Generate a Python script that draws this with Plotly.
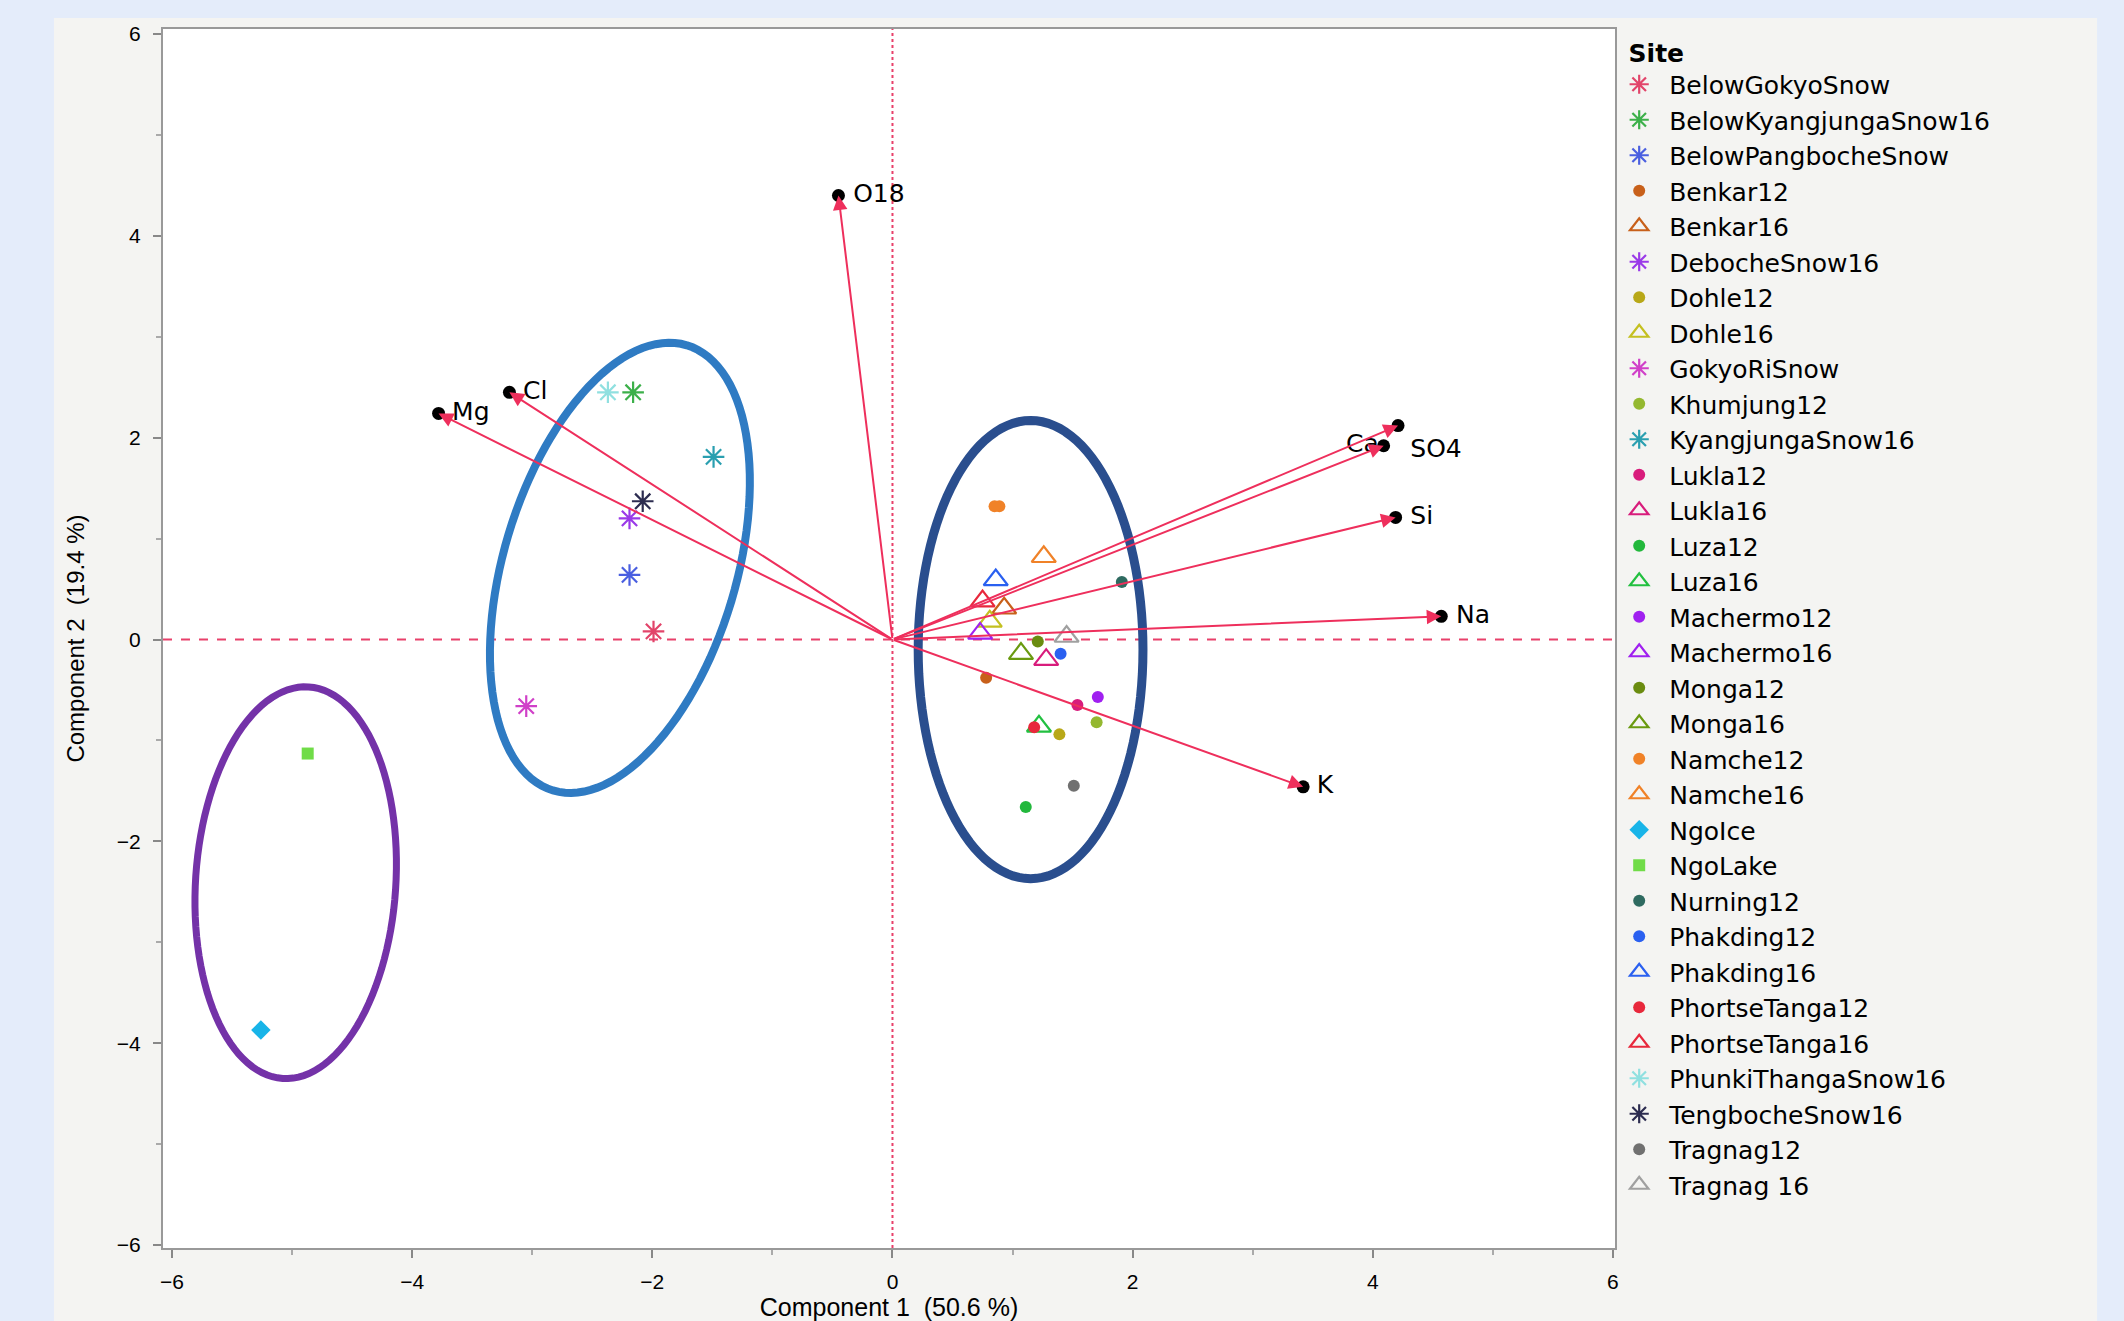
import math
import plotly.graph_objects as go

# ---- Site scores (Component 1, Component 2) ----
point_site = [
    "BelowGokyoSnow", "BelowKyangjungaSnow16", "BelowPangbocheSnow",
    "Benkar12", "Benkar16", "DebocheSnow16", "Dohle12", "Dohle16",
    "GokyoRiSnow", "Khumjung12", "KyangjungaSnow16", "Lukla12", "Lukla16",
    "Luza12", "Luza16", "Machermo12", "Machermo16", "Monga12", "Monga16",
    "Namche12", "Namche12", "Namche16", "NgoIce", "NgoLake", "Nurning12",
    "Phakding12", "Phakding16", "PhortseTanga12", "PhortseTanga16",
    "PhunkiThangaSnow16", "TengbocheSnow16", "Tragnag12", "Tragnag 16",
]
pc1 = [
    -1.99, -2.16, -2.19,
    0.78, 0.93, -2.19, 1.39, 0.81,
    -3.05, 1.70, -1.49, 1.54, 1.28,
    1.11, 1.22, 1.71, 0.73, 1.21, 1.07,
    0.89, 0.85, 1.26, -5.26, -4.87, 1.91,
    1.40, 0.86, 1.18, 0.75,
    -2.37, -2.08, 1.51, 1.45,
]
pc2 = [
    0.08, 2.45, 0.64,
    -0.38, 0.31, 1.20, -0.94, 0.18,
    -0.66, -0.82, 1.81, -0.65, -0.20,
    -1.66, -0.86, -0.57, 0.06, -0.02, -0.14,
    1.32, 1.32, 0.82, -3.87, -1.13, 0.57,
    -0.14, 0.59, -0.87, 0.38,
    2.45, 1.37, -1.45, 0.03,
]

# ---- Variable loadings (arrow tips) ----
load_names = ["O18", "Cl", "Mg", "SO4", "Ca", "Si", "Na", "K"]
load_pc1 = [-0.45, -3.19, -3.78, 4.21, 4.09, 4.19, 4.57, 3.42]
load_pc2 = [4.40, 2.45, 2.24, 2.12, 1.92, 1.21, 0.23, -1.46]

# ---- Group outlines: centre, semi-axis vectors (data units) ----
group_centres = [(-4.97, -2.41), (-2.27, 0.71), (1.15, -0.10)]
group_axis_p = [(0.108, 1.94), (0.557, 2.206), (0.0, 2.27)]
group_axis_q = [(0.832, -0.066), (0.928, -0.331), (0.936, 0.0)]

# ---- Styles ----
site_style = {
    "BelowGokyoSnow": ("asterisk-open", "#e2446a"),
    "BelowKyangjungaSnow16": ("asterisk-open", "#3cb04a"),
    "BelowPangbocheSnow": ("asterisk-open", "#4a5fe0"),
    "Benkar12": ("circle", "#c8601a"),
    "Benkar16": ("triangle-up-open", "#c8601a"),
    "DebocheSnow16": ("asterisk-open", "#9a3ae8"),
    "Dohle12": ("circle", "#b8a818"),
    "Dohle16": ("triangle-up-open", "#c4c020"),
    "GokyoRiSnow": ("asterisk-open", "#d040c8"),
    "Khumjung12": ("circle", "#94b830"),
    "KyangjungaSnow16": ("asterisk-open", "#2a9fb0"),
    "Lukla12": ("circle", "#d81c7c"),
    "Lukla16": ("triangle-up-open", "#d81c7c"),
    "Luza12": ("circle", "#22b83c"),
    "Luza16": ("triangle-up-open", "#22c040"),
    "Machermo12": ("circle", "#a020f0"),
    "Machermo16": ("triangle-up-open", "#a020f0"),
    "Monga12": ("circle", "#6a8c10"),
    "Monga16": ("triangle-up-open", "#6a9a10"),
    "Namche12": ("circle", "#f08228"),
    "Namche16": ("triangle-up-open", "#f08228"),
    "NgoIce": ("diamond", "#18b4e8"),
    "NgoLake": ("square", "#70dc48"),
    "Nurning12": ("circle", "#2e6a60"),
    "Phakding12": ("circle", "#2a60f0"),
    "Phakding16": ("triangle-up-open", "#2a60f0"),
    "PhortseTanga12": ("circle", "#e8283c"),
    "PhortseTanga16": ("triangle-up-open", "#e8283c"),
    "PhunkiThangaSnow16": ("asterisk-open", "#90e0e0"),
    "TengbocheSnow16": ("asterisk-open", "#2c2c50"),
    "Tragnag12": ("circle", "#707070"),
    "Tragnag 16": ("triangle-up-open", "#a0a0a0"),
}
symbol_size = {"asterisk-open": 18, "circle": 12, "triangle-up-open": 21,
               "diamond": 15, "square": 12}
label_pos = {"O18": "middle right", "Cl": "middle right", "Mg": "middle right",
             "SO4": "bottom right", "Ca": "middle left", "Si": "middle right",
             "Na": "middle right", "K": "middle right"}
label_gap = {"O18": 22, "Cl": 20, "Mg": 20, "SO4": 18, "Ca": 6, "Si": 22,
             "Na": 22, "K": 20}
group_colors = ["#7432a8", "#2f7bc3", "#2a4e8e"]
group_widths = [7, 8, 9]
LOAD_COLOR = "#ee2f5c"

fig = go.Figure()

# site score markers, one trace per site so each gets a legend entry
seen = []
for s in point_site:
    if s not in seen:
        seen.append(s)
for s in seen:
    xs = [x for x, n in zip(pc1, point_site) if n == s]
    ys = [y for y, n in zip(pc2, point_site) if n == s]
    sym, col = site_style[s]
    fig.add_trace(go.Scatter(
        x=xs, y=ys, mode="markers", name=s,
        marker=dict(symbol=sym, color=col, size=symbol_size[sym],
                    line=dict(width=2.2 if sym.endswith("open") else 0, color=col)),
    ))

# loading labels (transparent markers set the gap between tip and text)
fig.add_trace(go.Scatter(
    x=load_pc1, y=load_pc2, mode="markers+text", text=load_names,
    textposition=[label_pos[n] for n in load_names],
    textfont=dict(family="DejaVu Sans", size=25, color="black"),
    marker=dict(size=[label_gap[n] for n in load_names], color="rgba(0,0,0,0)"),
    showlegend=False, hoverinfo="skip",
))
fig.add_trace(go.Scatter(
    x=load_pc1, y=load_pc2, mode="markers",
    marker=dict(symbol="circle", color="black", size=13),
    showlegend=False, hoverinfo="skip",
))

# loading arrows from the origin
for n, lx, ly in zip(load_names, load_pc1, load_pc2):
    fig.add_annotation(
        x=lx, y=ly, ax=0, ay=0, xref="x", yref="y", axref="x", ayref="y",
        text="", showarrow=True, arrowhead=2, arrowsize=1.45, arrowwidth=2,
        arrowcolor=LOAD_COLOR, standoff=0,
    )

shapes = [
    # grey panel and white plotting area
    dict(type="rect", xref="paper", yref="paper", x0=-0.0751, x1=1.332,
         y0=-0.1, y1=1.009, fillcolor="#f4f4f2", line=dict(width=0), layer="below"),
    dict(type="rect", xref="paper", yref="paper", x0=0, x1=1, y0=0, y1=1,
         fillcolor="white", line=dict(width=0), layer="below"),
    # reference lines through the origin
    dict(type="line", xref="x", yref="paper", x0=0, x1=0, y0=0, y1=1,
         line=dict(color="#e8406a", width=2, dash="dot"), layer="below"),
    dict(type="line", xref="paper", yref="y", x0=0, x1=1, y0=0, y1=0,
         line=dict(color="#e8406a", width=2, dash="dash"), layer="below"),
]

# group outlines
for (cx, cy), (px, py), (qx, qy), col, w in zip(group_centres, group_axis_p,
                                                group_axis_q, group_colors, group_widths):
    pts = []
    for k in range(121):
        t = 2 * math.pi * k / 120
        pts.append((cx + px * math.cos(t) + qx * math.sin(t),
                    cy + py * math.cos(t) + qy * math.sin(t)))
    path = "M " + " L ".join(f"{x:.4f},{y:.4f}" for x, y in pts) + " Z"
    shapes.append(dict(type="path", xref="x", yref="y", path=path,
                       line=dict(color=col, width=w), layer="above"))

fig.update_layout(
    width=2124, height=1321,
    margin=dict(l=163, r=509, t=29, b=73),
    paper_bgcolor="#e4ecfa",
    plot_bgcolor="white",
    font=dict(family="Liberation Sans, Arial, sans-serif", color="black"),
    shapes=shapes,
    showlegend=True,
    legend=dict(
        title=dict(text="<b>\u00a0\u00a0Site</b>", font=dict(family="DejaVu Sans", size=25)),
        font=dict(family="DejaVu Sans", size=25, color="black"),
        x=0.996, xanchor="left", y=1.0, yanchor="top",
        bgcolor="rgba(0,0,0,0)", itemwidth=50, tracegroupgap=0,
    ),
)

axis_common = dict(
    ticks="outside", ticklen=8, tickwidth=1.5, tickcolor="#888",
    showline=True, linecolor="#999", linewidth=2, mirror=True,
    showgrid=False, zeroline=False, tick0=0, dtick=2, automargin=False,
    tickfont=dict(size=21, color="black"),
    minor=dict(ticks="outside", ticklen=5, tickcolor="#aaa", dtick=1, tick0=0),
)
fig.update_xaxes(range=[-6.075, 6.017], ticklabelstandoff=6,
                 title=dict(text="Component 1  (50.6 %)", font=dict(size=25), standoff=15),
                 **axis_common)
fig.update_yaxes(range=[-6.03, 6.05], ticklabelstandoff=8,
                 title=dict(text="Component 2  (19.4 %)", font=dict(size=24), standoff=25),
                 **axis_common)

fig.write_html("out.html")
